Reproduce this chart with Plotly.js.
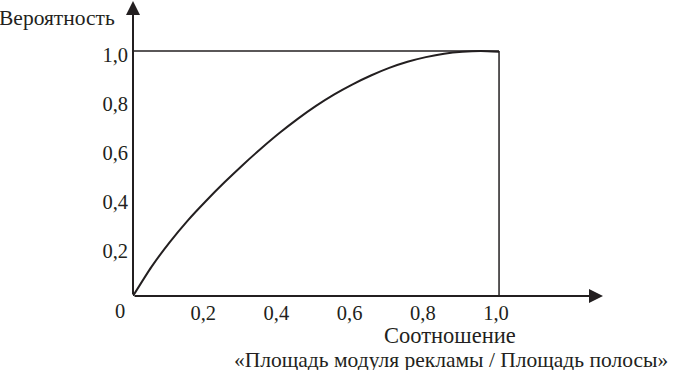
<!DOCTYPE html>
<html><head><meta charset="utf-8">
<script src="https://cdn.plot.ly/plotly-3.0.1.min.js"></script>
<style>html,body{margin:0;padding:0;background:#fff}#c{width:681px;height:377px}</style>
</head><body><div id="c"></div>
<script>
const ratio = [0, 0.05, 0.1, 0.15, 0.2, 0.25, 0.3, 0.35, 0.4, 0.45, 0.5, 0.55, 0.6, 0.65, 0.7, 0.75, 0.8, 0.85, 0.9, 0.95, 1.0];
const probability = [0, 0.118, 0.219, 0.309, 0.389, 0.464, 0.535, 0.602, 0.665, 0.723, 0.776, 0.823, 0.864, 0.9, 0.931, 0.956, 0.975, 0.989, 0.997, 1.0, 0.997];
const xTickVals = [0.2, 0.4, 0.6, 0.8, 1.0];
const xTickText = ["0,2", "0,4", "0,6", "0,8", "1,0"];
const yTickVals = [0.2, 0.4, 0.6, 0.8, 1.0];
const yTickText = ["0,2", "0,4", "0,6", "0,8", "1,0"];
const yTitle = "Вероятность";
const xTitle1 = "Соотношение";
const xTitle2 = "«Площадь модуля рекламы / Площадь полосы»";

const ink = "#231f20";
const font = {family: "Liberation Serif, Times New Roman, serif", size: 20.5, color: ink};
const titleFont = {family: "Liberation Serif, Times New Roman, serif", size: 21.5, color: ink};
const xMax = 1.284, yMax = 1.204;

const trace = {x: ratio, y: probability, mode: "lines", line: {color: ink, width: 2, shape: "spline", smoothing: 0.6}, hoverinfo: "skip"};

const layout = {
  width: 681, height: 377,
  margin: {l: 133, r: 78, t: 1, b: 81},
  paper_bgcolor: "#fff", plot_bgcolor: "#fff",
  showlegend: false,
  font: font,
  xaxis: {range: [0, xMax], showgrid: false, zeroline: false, showline: false,
    tickmode: "array", tickvals: xTickVals, ticktext: xTickText, ticks: "", ticklabelstandoff: 2, ticklabelshift: -3, tickfont: font, fixedrange: true},
  yaxis: {range: [0, yMax], showgrid: false, zeroline: false, showline: false,
    tickmode: "array", tickvals: yTickVals, ticktext: yTickText, ticks: "", ticklabelstandoff: 4, ticklabelshift: 4, tickfont: font, fixedrange: true},
  shapes: [
    {type: "line", xref: "x", yref: "y", x0: 0, x1: 1, y0: 1, y1: 1, line: {color: ink, width: 1.5}},
    {type: "line", xref: "x", yref: "y", x0: 1, x1: 1, y0: 0, y1: 1, line: {color: ink, width: 1.5}}
  ],
  annotations: [
    {x: xMax, y: 0, ax: 0, ay: 0, xref: "x", yref: "y", axref: "x", ayref: "y", text: "", showarrow: true, arrowhead: 2, arrowsize: 1.4, arrowwidth: 2, arrowcolor: ink},
    {x: 0, y: yMax, ax: 0, ay: 0, xref: "x", yref: "y", axref: "x", ayref: "y", text: "", showarrow: true, arrowhead: 2, arrowsize: 1.4, arrowwidth: 2, arrowcolor: ink},
    {x: 0, y: 0, xref: "x", yref: "y", text: "0", showarrow: false, xanchor: "right", yanchor: "top", xshift: -6, yshift: -2, font: font},
    {x: 0, y: 1, xref: "paper", yref: "paper", text: yTitle, showarrow: false, xanchor: "left", yanchor: "top", xshift: -136, yshift: -3, font: titleFont},
    {x: 0.866, y: 0, xref: "x", yref: "paper", text: xTitle1, showarrow: false, xanchor: "center", yanchor: "middle", yshift: -39, height: 20, valign: "middle", font: {family: titleFont.family, size: 22.5, color: ink}},
    {x: 0.87, y: 0, xref: "x", yref: "paper", text: xTitle2, showarrow: false, xanchor: "center", yanchor: "middle", yshift: -64, height: 20, valign: "middle", font: titleFont}
  ]
};
Plotly.newPlot("c", [trace], layout, {displayModeBar: false, staticPlot: true});
</script></body></html>
